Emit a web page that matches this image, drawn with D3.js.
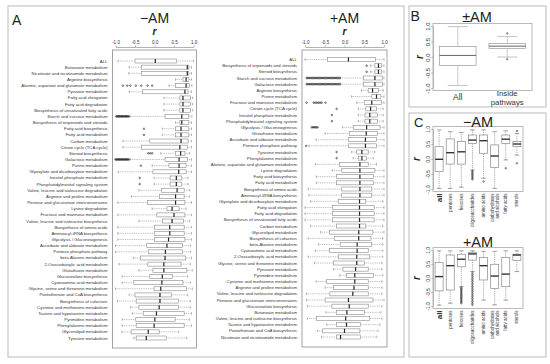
<!DOCTYPE html>
<html>
<head>
<meta charset="utf-8">
<script src="https://cdn.jsdelivr.net/npm/d3@7"></script>
<style>
  body { margin: 0; background: #fff; }
  svg { display: block; font-family: "Liberation Sans", Arial, sans-serif; }
</style>
</head>
<body>
<div id="chart"></div>
<script>
// ---- data: panel A, -AM ----
const minusLabels = [
  "ALL", "Butanoate metabolism", "Nicotinate and nicotinamide metabolism", "Arginine biosynthesis",
  "Alanine, aspartate and glutamate metabolism", "Pyruvate metabolism", "Fatty acid elongation",
  "Fatty acid degradation", "Biosynthesis of unsaturated fatty acids", "Starch and sucrose metabolism",
  "Biosynthesis of terpenoids and steroids", "Fatty acid biosynthesis", "Fatty acid metabolism",
  "Carbon metabolism", "Citrate cycle (TCA cycle)", "Steroid biosynthesis", "Galactose metabolism",
  "Purine metabolism", "Glyoxylate and dicarboxylate metabolism", "Inositol phosphate metabolism",
  "Phosphatidylinositol signaling system", "Valine, leucine and isoleucine degradation",
  "Arginine and proline metabolism", "Pentose and glucuronate interconversions", "Lysine degradation",
  "Fructose and mannose metabolism", "Valine, leucine and isoleucine biosynthesis",
  "Biosynthesis of amino acids", "Aminoacyl-tRNA biosynthesis", "Glycolysis / Gluconeogenesis",
  "Ascorbate and aldarate metabolism", "Pentose phosphate pathway", "beta-Alanine metabolism",
  "2-Oxocarboxylic acid metabolism", "Glutathione metabolism", "Glucosinolate biosynthesis",
  "Cyanoamino acid metabolism", "Glycine, serine and threonine metabolism",
  "Pantothenate and CoA biosynthesis", "Biosynthesis of cofactors", "Cysteine and methionine metabolism",
  "Taurine and hypotaurine metabolism", "Pyrimidine metabolism", "Phenylalanine metabolism",
  "Glycerolipid metabolism", "Tyrosine metabolism"
];
// [lower whisker, q1, median, q3, upper whisker]
const minusStats = [
  [-0.93, -0.5, 0.02, 0.56, 1.0], [-0.65, -0.33, 0.84, 0.88, 0.95], [-0.66, -0.33, 0.84, 0.88, 0.95],
  [0.54, 0.73, 0.81, 0.88, 0.95], [0.37, 0.54, 0.81, 0.89, 0.96], [-0.65, -0.31, 0.78, 0.86, 0.95],
  [0.24, 0.65, 0.73, 0.92, 0.98], [0.24, 0.65, 0.73, 0.92, 0.98], [0.24, 0.65, 0.73, 0.92, 0.98],
  [-0.63, 0.27, 0.70, 0.88, 0.96], [0.54, 0.65, 0.70, 0.88, 0.95], [0.2, 0.54, 0.68, 0.88, 0.95],
  [0.2, 0.54, 0.68, 0.88, 0.95], [-0.81, -0.12, 0.68, 0.86, 0.95], [-0.81, -0.33, 0.65, 0.84, 0.95],
  [0.16, 0.54, 0.67, 0.78, 0.9], [-0.62, 0.27, 0.63, 0.84, 0.95], [-0.06, 0.37, 0.63, 0.81, 0.95],
  [-0.93, -0.04, 0.62, 0.81, 0.95], [-0.01, 0.40, 0.56, 0.70, 0.86], [-0.01, 0.40, 0.56, 0.70, 0.86],
  [-0.4, 0.18, 0.58, 0.76, 0.9], [-0.59, 0.13, 0.54, 0.76, 0.9], [-0.94, -0.18, 0.54, 0.78, 0.95],
  [-0.06, 0.32, 0.45, 0.63, 0.81], [-0.94, 0.06, 0.5, 0.78, 0.95], [-0.4, 0.21, 0.45, 0.74, 0.9],
  [-0.94, 0.0, 0.39, 0.76, 0.95], [-0.94, 0.0, 0.39, 0.76, 0.95], [-0.94, 0.0, 0.36, 0.78, 0.95],
  [-1.0, -0.2, 0.32, 0.72, 0.92], [-1.0, -0.16, 0.28, 0.72, 0.92], [-0.54, -0.36, 0.27, 0.80, 0.95],
  [-0.91, -0.17, 0.24, 0.68, 0.92], [-0.4, -0.04, 0.24, 0.83, 0.97], [-0.83, -0.12, 0.2, 0.46, 0.85],
  [-0.83, -0.53, 0.19, 0.73, 0.92], [-1.0, -0.01, 0.16, 0.82, 0.97], [-0.65, -0.5, 0.14, 0.44, 0.85],
  [-0.95, -0.47, 0.14, 0.61, 0.92], [-0.61, -0.4, 0.12, 0.62, 0.92], [-0.57, -0.29, 0.05, 0.76, 0.95],
  [-0.83, -0.48, 0.01, 0.53, 0.9], [-0.83, -0.47, -0.01, 0.76, 0.95], [-0.84, -0.6, -0.16, 0.12, 0.62],
  [-0.53, -0.47, -0.21, 0.30, 0.83]
];
const minusOutliers = [
  { row: 4, v: [-0.81, -0.7, -0.62, -0.48, -0.34, -0.18, -0.06] },
  { row: 9, v: [-0.98, -0.96, -0.94, -0.92, -0.9, -0.88, -0.86, -0.84, -0.82, -0.8, -0.78, -0.76, -0.74, -0.72, -0.7, -0.68, -0.66] },
  { row: 11, v: [-0.27] },
  { row: 12, v: [-0.27] },
  { row: 15, v: [-0.16, -0.11, -0.06] },
  { row: 16, v: [-1.0, -0.98, -0.96, -0.94, -0.92, -0.9, -0.88, -0.86, -0.84, -0.82, -0.8, -0.78, -0.76, -0.74, -0.72, -0.7, -0.68, -0.66] },
  { row: 17, v: [-0.35] },
  { row: 19, v: [-0.38] },
  { row: 20, v: [-0.38] }
];

// ---- data: panel A, +AM ----
const plusLabels = [
  "ALL", "Biosynthesis of terpenoids and steroids", "Steroid biosynthesis", "Starch and sucrose metabolism",
  "Galactose metabolism", "Arginine biosynthesis", "Purine metabolism", "Fructose and mannose metabolism",
  "Citrate cycle (TCA cycle)", "Inositol phosphate metabolism", "Phosphatidylinositol signaling system",
  "Glycolysis / Gluconeogenesis", "Glutathione metabolism", "Ascorbate and aldarate metabolism",
  "Pentose phosphate pathway", "Tyrosine metabolism", "Phenylalanine metabolism",
  "Alanine, aspartate and glutamate metabolism", "Lysine degradation", "Fatty acid biosynthesis",
  "Fatty acid metabolism", "Biosynthesis of amino acids", "Aminoacyl-tRNA biosynthesis",
  "Glyoxylate and dicarboxylate metabolism", "Fatty acid elongation", "Fatty acid degradation",
  "Biosynthesis of unsaturated fatty acids", "Carbon metabolism", "Glycerolipid metabolism",
  "Biosynthesis of cofactors", "beta-Alanine metabolism", "Cyanoamino acid metabolism",
  "2-Oxocarboxylic acid metabolism", "Glycine, serine and threonine metabolism", "Pyruvate metabolism",
  "Pyrimidine metabolism", "Cysteine and methionine metabolism", "Arginine and proline metabolism",
  "Valine, leucine and isoleucine degradation", "Pentose and glucuronate interconversions",
  "Glucosinolate biosynthesis", "Butanoate metabolism", "Valine, leucine and isoleucine biosynthesis",
  "Taurine and hypotaurine metabolism", "Pantothenate and CoA biosynthesis",
  "Nicotinate and nicotinamide metabolism"
];
const plusStats = [
  [-1.0, -0.43, 0.10, 0.78, 1.0], [0.66, 0.77, 0.86, 0.94, 1.0], [0.66, 0.77, 0.86, 0.94, 1.0],
  [-0.1, 0.48, 0.77, 0.96, 1.0], [-0.1, 0.48, 0.77, 0.96, 1.0], [0.43, 0.6, 0.71, 0.86, 0.98],
  [0.18, 0.69, 0.81, 0.92, 1.0], [0.31, 0.5, 0.69, 0.94, 1.0], [0.35, 0.54, 0.66, 0.81, 0.98],
  [0.35, 0.52, 0.64, 0.83, 0.98], [0.35, 0.52, 0.64, 0.83, 0.98], [-0.05, 0.22, 0.56, 0.9, 1.0],
  [-0.49, 0.12, 0.55, 0.83, 1.0], [-0.72, 0.1, 0.53, 0.81, 1.0], [-0.9, 0.1, 0.53, 0.81, 1.0],
  [0.18, 0.31, 0.44, 0.6, 0.77], [0.22, 0.35, 0.44, 0.55, 0.73], [-0.74, -0.13, 0.39, 0.6, 0.81],
  [-0.31, -0.07, 0.39, 0.77, 1.0], [-0.71, -0.2, 0.39, 0.73, 1.0], [-0.71, -0.2, 0.39, 0.73, 1.0],
  [-0.92, -0.07, 0.39, 0.69, 1.0], [-0.9, -0.07, 0.39, 0.69, 1.0], [-0.86, -0.16, 0.38, 0.54, 0.97],
  [-1.0, -0.3, 0.38, 0.75, 1.0], [-1.0, -0.3, 0.38, 0.75, 1.0], [-1.0, -0.3, 0.38, 0.75, 1.0],
  [-0.86, -0.2, 0.38, 0.54, 0.97], [-0.61, -0.38, 0.36, 0.72, 1.0], [-0.92, -0.26, 0.36, 0.67, 0.97],
  [-0.66, -0.11, 0.32, 0.69, 0.97], [-0.74, -0.38, 0.32, 0.6, 0.97], [-0.92, -0.16, 0.31, 0.64, 0.97],
  [-0.76, -0.28, 0.31, 0.51, 0.95], [-0.28, -0.04, 0.28, 0.6, 0.95], [-0.12, 0.05, 0.26, 0.73, 0.97],
  [-0.72, -0.45, 0.26, 0.6, 0.95], [-0.49, -0.28, 0.24, 0.6, 0.95], [-0.96, -0.37, 0.21, 0.6, 0.95],
  [-0.96, -0.49, 0.1, 0.72, 1.0], [-0.94, -0.32, 0.12, 0.6, 0.95], [-0.47, -0.2, 0.06, 0.51, 0.92],
  [-0.94, -0.71, 0.03, 0.64, 0.95], [-0.45, -0.2, 0.05, 0.41, 0.9], [-0.69, -0.55, 0.0, 0.39, 0.85],
  [-0.58, -0.2, -0.1, 0.41, 0.82]
];
const denseStarch = [-0.96, -0.93, -0.9, -0.87, -0.84, -0.81, -0.78, -0.75, -0.72, -0.69, -0.66, -0.63, -0.6,
  -0.57, -0.54, -0.51, -0.48, -0.45, -0.42, -0.39, -0.36, -0.33, -0.3, -0.27, -0.24, -0.21, -0.18, -0.15, -0.12];
const plusOutliers = [
  { row: 1, v: [0.56] },
  { row: 2, v: [0.56] },
  { row: 3, v: denseStarch },
  { row: 4, v: denseStarch },
  { row: 7, v: [-0.96, -0.78, -0.74, -0.7, -0.66, -0.62, -0.58, -0.48] },
  { row: 8, v: [-0.2] },
  { row: 9, v: [-0.32] },
  { row: 10, v: [-0.32] },
  { row: 11, v: [-0.83, -0.8, -0.77, -0.74, -0.71, -0.68] },
  { row: 14, v: [-0.97] },
  { row: 15, v: [-0.2] },
  { row: 16, v: [-0.2] }
];

const rTicks = [-1, -0.5, 0, 0.5, 1];

// ---- data: panel B ----
const bCats = ["All", "Inside pathways"];
const bStats = [[-0.92, -0.27, 0.05, 0.34, 0.98], [0.0, 0.27, 0.35, 0.44, 0.66]];
const bOutliers = [{ cat: 1, v: [0.76, -0.07] }];

// ---- data: panel C ----
const cCats = ["all", "pentoses", "hexoses", "oligosaccharides", "amino acids", "carbohydrates|and alcohols", "fatty acids", "sterols"];
const cMinusStats = [
  [-0.98, -0.42, -0.01, 0.41, 0.97], [-0.98, -0.17, 0.21, 0.67, 0.91], [-0.94, -0.17, 0.24, 0.58, 0.88],
  [-0.37, 0.52, 0.63, 0.8, 0.97], [-0.64, 0.19, 0.61, 0.8, 0.97], [-0.98, -0.28, 0.1, 0.47, 0.91],
  [-0.03, 0.52, 0.66, 0.8, 0.94], [0.13, 0.41, 0.5, 0.58, 0.85]
];
const cMinusOutliers = [
  { cat: 3, v: [-0.4, -0.44, -0.48, -0.52, -0.56, -0.6, -0.64, -0.68] },
  { cat: 4, v: [-0.75] },
  { cat: 6, v: [-0.31] },
  { cat: 7, v: [-0.14, 0.93] }
];
const cPlusStats = [
  [-0.97, -0.46, 0.05, 0.55, 0.97], [-0.9, -0.43, 0.44, 0.82, 0.97], [-0.31, 0.4, 0.67, 0.85, 0.97],
  [0.23, 0.64, 0.86, 0.92, 0.97], [-0.79, -0.07, 0.44, 0.73, 0.95], [-0.96, -0.37, 0.07, 0.49, 0.95],
  [-0.79, -0.31, 0.14, 0.73, 0.97], [0.23, 0.62, 0.82, 0.85, 0.97]
];
const cPlusOutliers = [
  { cat: 2, v: [-0.34, -0.38, -0.42, -0.46, -0.5, -0.54, -0.58, -0.62, -0.66, -0.7, -0.74, -0.78, -0.82, -0.86, -0.9] },
  { cat: 3, v: [0.18, 0.12, 0.06, 0.0, -0.06, -0.12, -0.18, -0.24, -0.3, -0.36, -0.42, -0.48, -0.54, -0.6, -0.66, -0.72, -0.78, -0.84, -0.9, -0.96] }
];

const svg = d3.select("#chart").append("svg").attr("width", 550).attr("height", 364);
const fmt = d => d.toFixed(1);

function frame(x, y, w, h) {
  svg.append("rect").attr("x", x).attr("y", y).attr("width", w).attr("height", h)
    .attr("fill", "none").attr("stroke", "#c6c6c6").attr("stroke-width", 1.2);
}
frame(8, 6, 396, 351);
frame(409, 6, 137, 101);
frame(409, 113, 137, 244);

function label(x, y, txt, size, opts = {}) {
  return svg.append("text").attr("x", x).attr("y", y).attr("font-size", size)
    .attr("text-anchor", opts.anchor || "start").attr("fill", opts.fill || "#222")
    .attr("font-weight", opts.weight || null).attr("font-style", opts.style || null).text(txt);
}

// horizontal box plots (panel A)
function drawA(labels, stats, outs, cfg) {
  const x = d3.scaleLinear().domain([-1, 1]).range(cfg.xr);
  const y = d3.scalePoint().domain(d3.range(labels.length)).range(cfg.yr);
  const g = svg.append("g");

  g.append("rect").attr("x", x(-1) - 3).attr("y", cfg.top)
    .attr("width", x(1) - x(-1) + 6).attr("height", cfg.bottom - cfg.top)
    .attr("fill", "#fff").attr("stroke", "#8c8c8c").attr("stroke-width", 0.8);

  const ax = g.append("g").attr("transform", `translate(0,${cfg.top - 3})`)
    .call(d3.axisTop(x).tickValues(rTicks).tickSize(1.5).tickSizeOuter(0).tickPadding(1.2).tickFormat(fmt));
  ax.attr("font-family", null);
  ax.select(".domain").attr("stroke", "#666").attr("stroke-width", 0.5);
  ax.selectAll(".tick line").attr("stroke", "#666").attr("stroke-width", 0.5);
  ax.selectAll(".tick text").attr("font-size", 4.5).attr("fill", "#333");

  g.selectAll("text.lab").data(labels).join("text").attr("class", "lab")
    .attr("x", x(-1) - 8).attr("y", (d, i) => y(i)).attr("dy", "0.35em")
    .attr("text-anchor", "end").attr("font-size", 4.3).attr("fill", "#333").text(d => d);

  const row = g.selectAll("g.row").data(stats).join("g").attr("class", "row")
    .attr("transform", (d, i) => `translate(0,${y(i)})`);
  row.selectAll("line.wh").data(d => [[d[0], d[1]], [d[3], d[4]]]).join("line").attr("class", "wh")
    .attr("x1", s => x(s[0])).attr("x2", s => x(s[1]))
    .attr("stroke", "#777").attr("stroke-width", 0.5).attr("stroke-dasharray", "1,0.8");
  row.selectAll("line.cap").data(d => [d[0], d[4]]).join("line").attr("class", "cap")
    .attr("x1", v => x(v)).attr("x2", v => x(v)).attr("y1", -1.3).attr("y2", 1.3)
    .attr("stroke", "#777").attr("stroke-width", 0.5);
  row.append("rect").attr("x", d => x(d[1])).attr("width", d => x(d[3]) - x(d[1]))
    .attr("y", -2).attr("height", 4).attr("fill", "#fff").attr("stroke", "#8a8a8a").attr("stroke-width", 0.6);
  row.append("line").attr("x1", d => x(d[2])).attr("x2", d => x(d[2])).attr("y1", -2).attr("y2", 2)
    .attr("stroke", "#222").attr("stroke-width", 1.2);

  outs.forEach(o => {
    g.selectAll(null).data(o.v).join("circle")
      .attr("cx", v => x(v)).attr("cy", y(o.row)).attr("r", 0.8)
      .attr("fill", "none").attr("stroke", "#222").attr("stroke-width", 0.6);
  });

  label(x(0), 23, cfg.title, 14, { anchor: "middle" });
  label(x(0), 35, "r", 10, { anchor: "middle", weight: "bold", style: "italic" });
}

drawA(minusLabels, minusStats, minusOutliers,
  { xr: [115.5, 193.5], yr: [61, 338], top: 50, bottom: 348, title: "\u2212AM" });
drawA(plusLabels, plusStats, plusOutliers,
  { xr: [305, 384], yr: [59.5, 337], top: 50, bottom: 347, title: "+AM" });
label(12, 25, "A", 14);

// vertical box plots (panels B, C)
function drawV(cats, stats, outs, cfg) {
  const x = d3.scalePoint().domain(d3.range(cats.length)).range(cfg.xr).padding(cfg.pad);
  const y = d3.scaleLinear().domain([-1, 1]).range(cfg.yr);
  const g = svg.append("g");
  const top = y(1) - cfg.ext, bottom = y(-1) + cfg.ext;

  g.append("rect").attr("x", cfg.xr[0]).attr("y", top).attr("width", cfg.xr[1] - cfg.xr[0])
    .attr("height", bottom - top).attr("fill", "#fff").attr("stroke", "#a8a8a8").attr("stroke-width", 0.8);

  const ax = g.append("g").attr("transform", `translate(${cfg.xr[0]},0)`)
    .call(d3.axisLeft(y).tickValues(rTicks).tickSize(2).tickSizeOuter(0).tickFormat(fmt));
  ax.attr("font-family", null);
  ax.select(".domain").attr("stroke", "#888").attr("stroke-width", 0.5);
  ax.selectAll(".tick line").attr("stroke", "#888").attr("stroke-width", 0.5);
  ax.selectAll(".tick text").attr("transform", "rotate(-90)").attr("x", 0).attr("y", -3.5).attr("dy", 0)
    .attr("text-anchor", "middle").attr("font-size", cfg.tickFont).attr("fill", "#333");

  const bw = cfg.boxW;
  const col = g.selectAll("g.col").data(stats).join("g").attr("class", "col")
    .attr("transform", (d, i) => `translate(${x(i)},0)`);
  col.selectAll("line.wh").data(d => [[d[0], d[1]], [d[3], d[4]]]).join("line").attr("class", "wh")
    .attr("y1", s => y(s[0])).attr("y2", s => y(s[1]))
    .attr("stroke", cfg.whColor).attr("stroke-width", 0.6).attr("stroke-dasharray", cfg.dash);
  col.selectAll("line.cap").data(d => [d[0], d[4]]).join("line").attr("class", "cap")
    .attr("x1", -cfg.capW / 2).attr("x2", cfg.capW / 2).attr("y1", v => y(v)).attr("y2", v => y(v))
    .attr("stroke", cfg.whColor).attr("stroke-width", 0.7);
  col.append("rect").attr("x", -bw / 2).attr("width", bw)
    .attr("y", d => y(d[3])).attr("height", d => y(d[1]) - y(d[3]))
    .attr("fill", "#fff").attr("stroke", cfg.boxColor).attr("stroke-width", 0.7);
  col.append("line").attr("x1", -bw / 2).attr("x2", bw / 2).attr("y1", d => y(d[2])).attr("y2", d => y(d[2]))
    .attr("stroke", cfg.medColor).attr("stroke-width", cfg.medW);

  outs.forEach(o => {
    g.selectAll(null).data(o.v).join("circle")
      .attr("cx", x(o.cat)).attr("cy", v => y(v)).attr("r", 0.8)
      .attr("fill", "none").attr("stroke", "#333").attr("stroke-width", 0.6);
  });

  // rotated r label
  g.append("text").attr("transform", `translate(${cfg.rx},${y(0)}) rotate(-90)`)
    .attr("text-anchor", "middle").attr("font-size", 10).attr("font-weight", "bold")
    .attr("font-style", "italic").attr("fill", "#222").text("r");
  return { x, y, bottom };
}

// panel B
const pb = drawV(bCats, bStats, bOutliers, {
  xr: [433, 532], pad: 0.5, yr: [88, 26], ext: 2.5, boxW: 36.6, capW: 20, tickFont: 6,
  whColor: "#aaa", dash: null, boxColor: "#999", medColor: "#666", medW: 1, rx: 423
});
label(410.5, 20.7, "B", 14);
label(477, 21.5, "\u00b1AM", 14.5, { anchor: "middle" });
label(pb.x(0), 100, "All", 8.5, { anchor: "middle", fill: "#333" });
label(pb.x(1), 96.2, "Inside", 7.8, { anchor: "middle", fill: "#333" });
label(pb.x(1), 105.3, "pathways", 7.8, { anchor: "middle", fill: "#333" });

// panel C
function catLabels(x, y0) {
  cCats.forEach((c, i) => {
    const lines = c.split("|");
    const big = i === 0;
    lines.forEach((ln, k) => {
      const off = lines.length > 1 ? (k === 0 ? -1.9 : 2.6) : 0;
      svg.append("text").attr("transform", `translate(${x(i) + off},${y0}) rotate(-90)`)
        .attr("text-anchor", "end").attr("dy", "0.35em")
        .attr("font-size", big ? 8 : 4.5).attr("font-weight", big ? "bold" : null)
        .attr("fill", "#333").text(ln);
    });
  });
}
const cfgC = {
  xr: [433, 523], pad: 0.55, ext: 2.4, boxW: 8, capW: 4.5, tickFont: 4.8,
  whColor: "#777", dash: "1.2,0.9", boxColor: "#888", medColor: "#333", medW: 1.4, rx: 420
};
const pc1 = drawV(cCats, cMinusStats, cMinusOutliers, Object.assign({}, cfgC, { yr: [189, 129] }));
catLabels(pc1.x, pc1.bottom + 2);
label(414, 127, "C", 13);
label(478, 126.5, "\u2212AM", 14.5, { anchor: "middle" });

const pc2 = drawV(cCats, cPlusStats, cPlusOutliers, Object.assign({}, cfgC, { yr: [306, 250] }));
catLabels(pc2.x, pc2.bottom + 2);
label(478, 246.5, "+AM", 14.5, { anchor: "middle" });
</script>
</body>
</html>
